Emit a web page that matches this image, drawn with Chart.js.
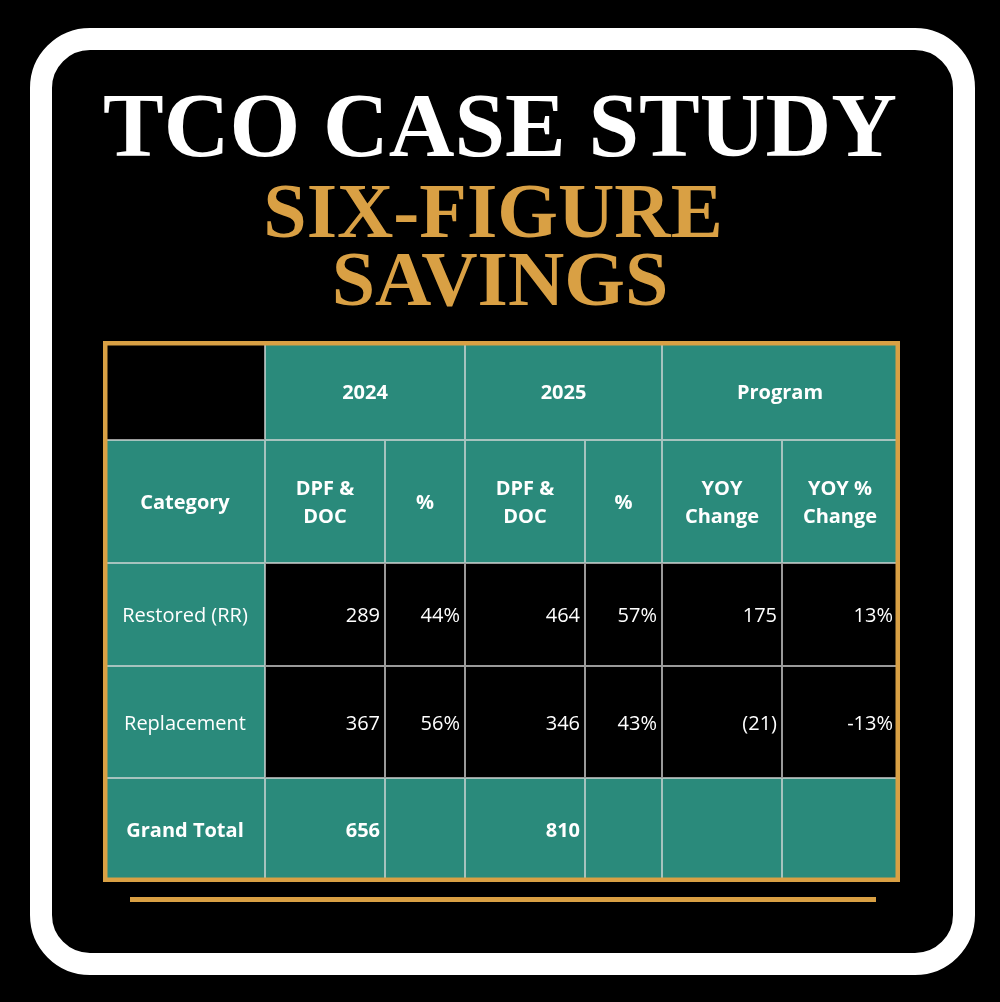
<!DOCTYPE html>
<html><head><meta charset="utf-8">
<script src="https://cdn.jsdelivr.net/npm/chart.js@4"></script>
<style>
html,body{margin:0;padding:0;background:#000;width:1000px;height:1002px;overflow:hidden}
#frame{position:absolute;left:30px;top:28px;width:901px;height:903px;border:22px solid #fff;border-radius:60px;background:#000}
.t{position:absolute;left:0;width:1000px;text-align:center;font-family:"Liberation Serif","DejaVu Serif",serif;font-weight:bold;line-height:1}
#wrap{position:absolute;left:103px;top:341px;width:797px;height:541px}
#gl{position:absolute;left:130px;top:897px;width:746px;height:5px;background:#d9a044}
</style></head><body>
<div id="frame"></div>
<div class="t" style="top:80px;font-size:91px;color:#fff">TCO CASE STUDY</div>
<div class="t" style="top:172px;font-size:78px;color:#d9a044;padding-right:14px;box-sizing:border-box">SIX-FIGURE</div>
<div class="t" style="top:240px;font-size:78px;color:#d9a044">SAVINGS</div>
<div id="wrap"><canvas id="c"></canvas></div>
<div id="gl"></div>
<script>
const groupHeaders = ["2024", "2025", "Program"];
const subHeaders = ["Category", "DPF &\nDOC", "%", "DPF &\nDOC", "%", "YOY\nChange", "YOY %\nChange"];
const categories = ["Restored (RR)", "Replacement"];
const dpf2024 = ["289", "367"];
const pct2024 = ["44%", "56%"];
const dpf2025 = ["464", "346"];
const pct2025 = ["57%", "43%"];
const yoyChange = ["175", "(21)"];
const yoyPct = ["13%", "-13%"];
const totalLabel = "Grand Total";
const totals = ["656", "", "810", "", "", ""];

const colEdges = [0,160,280,360,480,557,677,793];
const rowEdges = [0,97,220,323,435,537];
const TEAL = "#2a8a7b", GOLD = "#d9a044";

const tablePlugin = {
  id: 'table',
  afterDraw(chart){
    const ctx = chart.ctx, xs = chart.scales.x, ys = chart.scales.y;
    const X = v => xs.getPixelForValue(v), Y = v => ys.getPixelForValue(v);
    function cell(c0,c1,r,fill){
      const x0=X(colEdges[c0]),x1=X(colEdges[c1]),y0=Y(rowEdges[r]),y1=Y(rowEdges[r+1]);
      ctx.fillStyle=fill;ctx.fillRect(x0,y0,x1-x0,y1-y0);
      ctx.strokeStyle="rgba(220,220,220,0.7)";ctx.lineWidth=1;ctx.strokeRect(x0+0.5,y0+0.5,x1-x0-1,y1-y0-1);
      return {x0,x1,y0,y1};
    }
    function text(b,str,align,bold){
      if(!str) return;
      ctx.fillStyle="#fff";
      ctx.font=(bold?"bold ":"")+"20px 'Open Sans', sans-serif";
      ctx.textBaseline="middle";ctx.textAlign=align;
      const lines=str.split("\n"), lh=28;
      const cy=(b.y0+b.y1)/2+2;
      const x= align==="center"?(b.x0+b.x1)/2:(align==="right"?b.x1-5:b.x0+6);
      lines.forEach((l,i)=>ctx.fillText(l,x,cy+(i-(lines.length-1)/2)*lh));
    }
    ctx.save();
    cell(0,1,0,"#000");
    groupHeaders.forEach((g,i)=>text(cell(1+2*i,3+2*i,0,TEAL),g,"center",true));
    subHeaders.forEach((s,i)=>text(cell(i,i+1,1,TEAL),s,"center",true));
    const cols=[dpf2024,pct2024,dpf2025,pct2025,yoyChange,yoyPct];
    categories.forEach((cat,r)=>{
      text(cell(0,1,2+r,TEAL),cat,"center",false);
      cols.forEach((arr,i)=>text(cell(i+1,i+2,2+r,"#000"),arr[r],"right",false));
    });
    text(cell(0,1,4,TEAL),totalLabel,"center",true);
    totals.forEach((t,i)=>text(cell(i+1,i+2,4,TEAL),t,"right",true));
    ctx.strokeStyle=GOLD;ctx.lineWidth=5;
    ctx.strokeRect(X(0),Y(0),X(793)-X(0),Y(537)-Y(0));
    ctx.restore();
  }
};
new Chart(document.getElementById('c'),{
  type:'scatter',
  data:{datasets:[{data:[]}]},
  options:{responsive:true,maintainAspectRatio:false,animation:false,
    layout:{padding:2},
    plugins:{legend:{display:false},tooltip:{enabled:false}},
    scales:{x:{type:'linear',min:0,max:793,display:false},
            y:{type:'linear',min:0,max:537,reverse:true,display:false}}},
  plugins:[tablePlugin]
});
</script></body></html>
